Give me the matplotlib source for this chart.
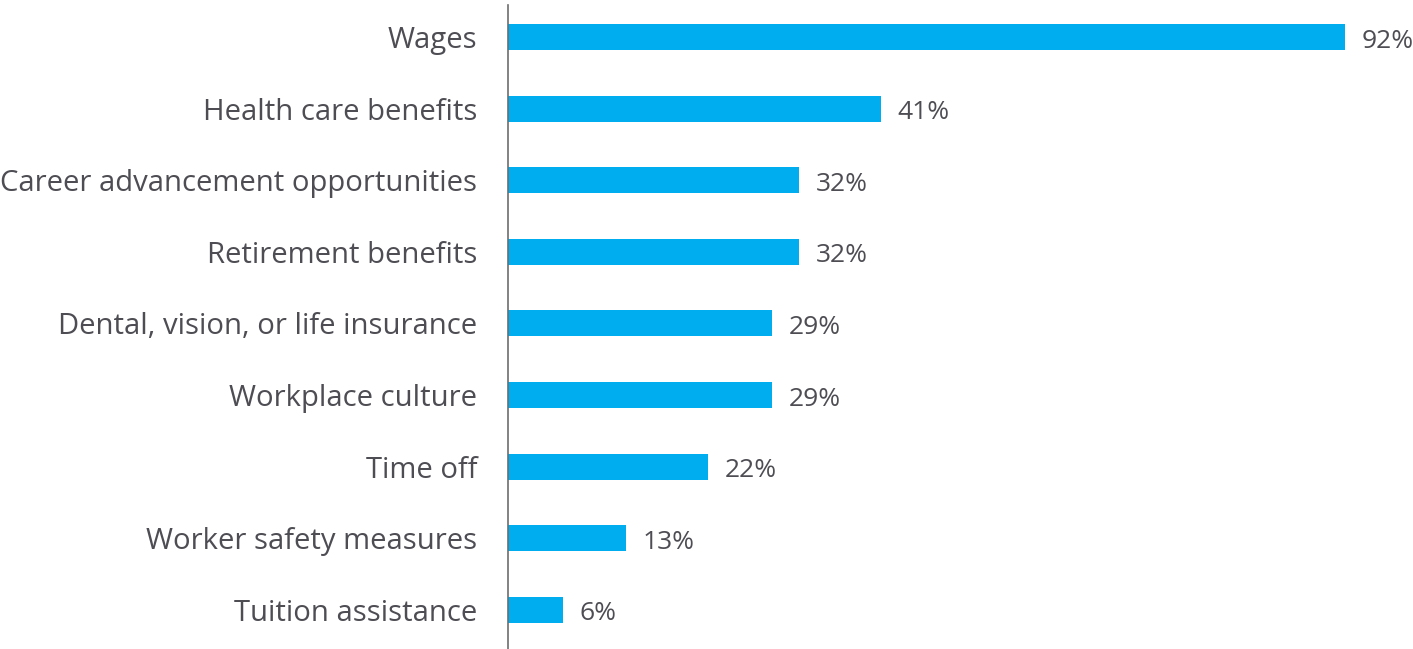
import matplotlib
matplotlib.use("Agg")
import matplotlib.pyplot as plt

# --- Survey data ---
categories = [
    "Wages",
    "Health care benefits",
    "Career advancement opportunities",
    "Retirement benefits",
    "Dental, vision, or life insurance",
    "Workplace culture",
    "Time off",
    "Worker safety measures",
    "Tuition assistance",
]
shares = [92, 41, 32, 32, 29, 29, 22, 13, 6]
value_labels = [f"{v}%" for v in shares]

BAR_COLOR = "#00AEEF"
TEXT_COLOR = "#4d4d53"
W, H, DPI = 1413, 649, 100

plt.rcParams["font.family"] = ["Open Sans", "DejaVu Sans"]

fig = plt.figure(figsize=(W / DPI, H / DPI), dpi=DPI)

# axis sits at x=508px, 92% reaches ~1345px
x0 = 508
px_per_unit = (1345 - x0) / 92
ax = fig.add_axes([x0 / W, 0, 1 - x0 / W, 1])
ax.set_xlim(0, (W - x0) / px_per_unit)

spacing = 71.6
first = 37
ax.set_ylim((H - first) / spacing, -first / spacing)

ypos = list(range(len(categories)))
ax.barh(ypos, shares, height=0.363, color=BAR_COLOR, zorder=2)

for y, v, lab in zip(ypos, shares, value_labels):
    ax.annotate(lab, xy=(v, y), xytext=(12, -3), textcoords="offset points",
                ha="left", va="center", fontsize=19, color=TEXT_COLOR)

ax.set_yticks(ypos)
ax.set_yticklabels(categories, fontsize=21.1, color=TEXT_COLOR)
ax.tick_params(axis="y", length=0, pad=22)
ax.set_xticks([])

for side in ["top", "right", "bottom"]:
    ax.spines[side].set_visible(False)
ax.spines["left"].set_color("#6d6d6d")
ax.spines["left"].set_linewidth(1.2)
ax.spines["left"].set_bounds(8.6, -0.45)

fig.savefig("out.png", dpi=DPI)
